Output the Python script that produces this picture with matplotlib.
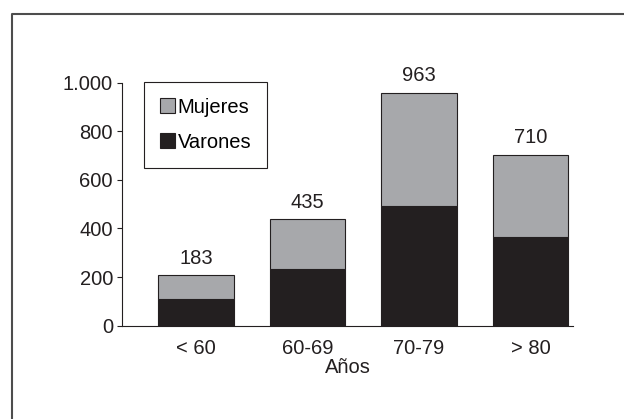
import matplotlib
matplotlib.use("Agg")
import matplotlib.pyplot as plt
import matplotlib.patches as patches
import matplotlib.lines as mlines
import numpy as np

# ================================
# DATA
# ================================
categories = ["< 60", "60-69", "70-79", "> 80"]
varones = [111, 233, 494, 365]
mujeres = [97, 205, 465, 339]
total_labels = ["183", "435", "963", "710"]
y_ticks = [0, 200, 400, 600, 800, 1000]
y_tick_labels = ["0", "200", "400", "600", "800", "1.000"]

plt.rcParams["font.family"] = ["Liberation Sans Narrow", "Liberation Sans", "DejaVu Sans"]

C_MUJ = "#a7a8ab"
C_VAR = "#231f20"
EDGE = "#231f20"
FS = 14.5

fig = plt.figure(figsize=(6.24, 4.19), dpi=100)
ax = fig.add_axes([0.1955, 0.2227, 0.7228, 0.580])

x = np.arange(len(categories))
width = 0.677
ax.bar(x, varones, width, color=C_VAR, edgecolor=EDGE, linewidth=0.8, zorder=2)
ax.bar(x, mujeres, width, bottom=varones, color=C_MUJ, edgecolor=EDGE, linewidth=0.8, zorder=2)

# Totals above bars
for xi, v, m, lab in zip(x, varones, mujeres, total_labels):
    ax.annotate(lab, (xi, v + m), xytext=(0, 12), textcoords="offset points",
                ha="center", va="center", fontsize=FS, color="#231f20")

ax.set_xlim(-0.664, 3.38)
ax.set_ylim(0, 1000)
ax.set_yticks(y_ticks)
ax.set_yticklabels(y_tick_labels)
ax.set_xticks(x)
ax.set_xticklabels(categories)
ax.tick_params(axis="y", length=3.5, width=0.8, pad=3, labelsize=FS, colors="#231f20")
ax.tick_params(axis="x", length=0, pad=9.5, labelsize=FS, colors="#231f20")
ax.set_xlabel("Años", fontsize=FS, color="#231f20", labelpad=0)

for s in ["top", "right"]:
    ax.spines[s].set_visible(False)
for s in ["left", "bottom"]:
    ax.spines[s].set_linewidth(0.8)
    ax.spines[s].set_color("#231f20")

# Legend
handles = [patches.Patch(facecolor=C_MUJ, edgecolor=EDGE, linewidth=0.8),
           patches.Patch(facecolor=C_VAR, edgecolor=EDGE, linewidth=0.8)]
leg = ax.legend(handles, ["Mujeres", "Varones"], loc="upper left",
                bbox_to_anchor=(144 / 624, 1 - 82 / 419), bbox_transform=fig.transFigure,
                fancybox=False, framealpha=1, edgecolor="#231f20", fontsize=FS,
                handlelength=0.75, handleheight=0.75, handletextpad=0.15,
                labelspacing=0.8, borderpad=0.78, borderaxespad=0)
leg.get_frame().set_linewidth(0.8)

# Outer frame (only top/left visible in original)
fig.add_artist(mlines.Line2D([12 / 624, 12 / 624, 1.0], [0.0, 1 - 14 / 419, 1 - 14 / 419],
                             transform=fig.transFigure, color="#4d4d4d", linewidth=1.5))

fig.savefig("out.png", dpi=100, facecolor="white")
